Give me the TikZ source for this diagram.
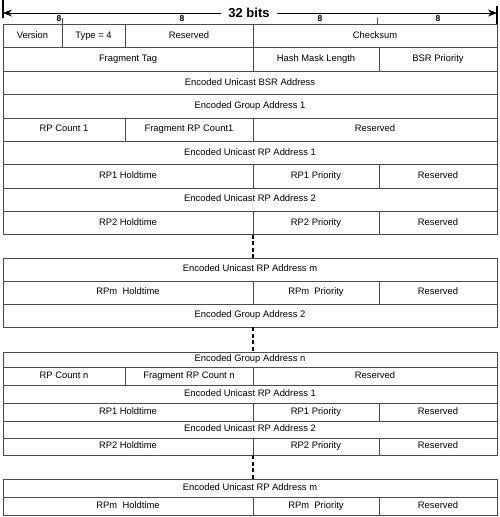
\documentclass[tikz,border=0pt]{standalone}
\usepackage{fontspec}
\setmainfont{Liberation Sans}
\usetikzlibrary{arrows.meta}
\newcommand{\pktcell}[6]{%
  \pgfmathsetmacro\pktw{#3-#2}%
  \pgfmathsetmacro\pkth{#5-#4}%
  \node[cellbox, minimum width=\pktw pt, minimum height=\pkth pt] (#1) at (#2,#4) {#6};}
\begin{document}
\begin{tikzpicture}[x=1pt,y=-1pt,
  cellbox/.style={draw=black!70, line width=0.7pt, inner sep=0pt, outer sep=0pt,
    anchor=north west, text height=6.8pt, text depth=2pt,
    font=\fontsize{9.4}{11}\selectfont},
  bitlbl/.style={font=\fontsize{8.5}{9}\bfseries\selectfont, inner sep=0pt},
  gapline/.style={line width=1.7pt, dash pattern=on 4pt off 2.5pt},
  barline/.style={line width=1.6pt},
  tickline/.style={draw=black!70, line width=0.7pt}]
\useasboundingbox (0,0) rectangle (500,517);
% header
\node[font=\fontsize{13}{14}\bfseries\selectfont, inner sep=7pt] (title) at (249,13) {32 bits};
\coordinate (al) at (3,13);
\coordinate (ar) at (497,13);
\coordinate (lbt) at (3,0);
\coordinate (lbb) at (3,18);
\coordinate (rbt) at (497,6);
\coordinate (rbb) at (497,25);
\draw[barline] (lbt) -- (lbb);
\draw[barline] (rbt) -- (rbb);
\draw[line width=0.6pt, -{Stealth[length=9pt,width=7pt]}] (title.west) -- (al);
\draw[line width=0.6pt, -{Stealth[length=9pt,width=7pt]}] (title.east) -- (ar);
\node[bitlbl] (b1) at (59,19) {8};
\node[bitlbl] (b2) at (182,19) {8};
\node[bitlbl] (b3) at (320,19) {8};
\node[bitlbl] (b4) at (438,19) {8};
% box 1
\pktcell{ver}{3}{62}{24}{47.5}{Version}
\pktcell{typ}{62}{125}{24}{47.5}{Type = 4}
\pktcell{res0}{125}{253}{24}{47.5}{Reserved}
\pktcell{chk}{253}{497}{24}{47.5}{Checksum}
\coordinate (t1) at (62,18);
\coordinate (t2) at (377,18);
\draw[tickline] (ver.north east) -- (t1);
\draw[tickline] (t2) -- (t2 |- chk.north);
\pktcell{ftag}{3}{253}{47.5}{71}{Fragment Tag}
\pktcell{hml}{253}{379}{47.5}{71}{Hash Mask Length}
\pktcell{bsrp}{379}{497}{47.5}{71}{BSR Priority}
\pktcell{bsra}{3}{497}{71}{94.5}{Encoded Unicast BSR Address}
\pktcell{ga1}{3}{497}{94.5}{118}{Encoded Group Address 1}
\pktcell{rpc1}{3}{125}{118}{141}{RP Count 1}
\pktcell{frpc1}{125}{253}{118}{141}{Fragment RP Count1}
\pktcell{res1}{253}{497}{118}{141}{Reserved}
\pktcell{ua1}{3}{497}{141}{164.5}{Encoded Unicast RP Address 1}
\pktcell{h1}{3}{253}{164.5}{188}{RP1 Holdtime}
\pktcell{p1}{253}{379}{164.5}{188}{RP1 Priority}
\pktcell{r1}{379}{497}{164.5}{188}{Reserved}
\pktcell{ua2}{3}{497}{188}{211}{Encoded Unicast RP Address 2}
\pktcell{h2}{3}{253}{211}{234.5}{RP2 Holdtime}
\pktcell{p2}{253}{379}{211}{234.5}{RP2 Priority}
\pktcell{r2}{379}{497}{211}{234.5}{Reserved}
% box 2
\pktcell{uam}{3}{497}{258}{281}{Encoded Unicast RP Address m}
\pktcell{hm}{3}{253}{281}{304}{RPm\ \ Holdtime}
\pktcell{pm}{253}{379}{281}{304}{RPm\ \ Priority}
\pktcell{rm}{379}{497}{281}{304}{Reserved}
\pktcell{ga2}{3}{497}{304}{327}{Encoded Group Address 2}
% box 3
\pktcell{gan}{3}{497}{352}{367}{Encoded Group Address n}
\pktcell{rpcn}{3}{125}{367}{385}{RP Count n}
\pktcell{frpcn}{125}{253}{367}{385}{Fragment RP Count n}
\pktcell{resn}{253}{497}{367}{385}{Reserved}
\pktcell{ua1n}{3}{497}{385}{403}{Encoded Unicast RP Address 1}
\pktcell{h1n}{3}{253}{403}{421}{RP1 Holdtime}
\pktcell{p1n}{253}{379}{403}{421}{RP1 Priority}
\pktcell{r1n}{379}{497}{403}{421}{Reserved}
\pktcell{ua2n}{3}{497}{421}{438}{Encoded Unicast RP Address 2}
\pktcell{h2n}{3}{253}{438}{455}{RP2 Holdtime}
\pktcell{p2n}{253}{379}{438}{455}{RP2 Priority}
\pktcell{r2n}{379}{497}{438}{455}{Reserved}
% box 4
\pktcell{uamn}{3}{497}{479}{497}{Encoded Unicast RP Address m}
\pktcell{hmn}{3}{253}{497}{515}{RPm\ \ Holdtime}
\pktcell{pmn}{253}{379}{497}{515}{RPm\ \ Priority}
\pktcell{rmn}{379}{497}{497}{515}{Reserved}
% gaps
\draw[gapline] (h2.south east) -- (h2.south east |- uam.north);
\draw[gapline] (hm.south east |- ga2.south) -- (hm.south east |- gan.north);
\draw[gapline] (h2n.south east) -- (h2n.south east |- uamn.north);
\end{tikzpicture}
\end{document}
